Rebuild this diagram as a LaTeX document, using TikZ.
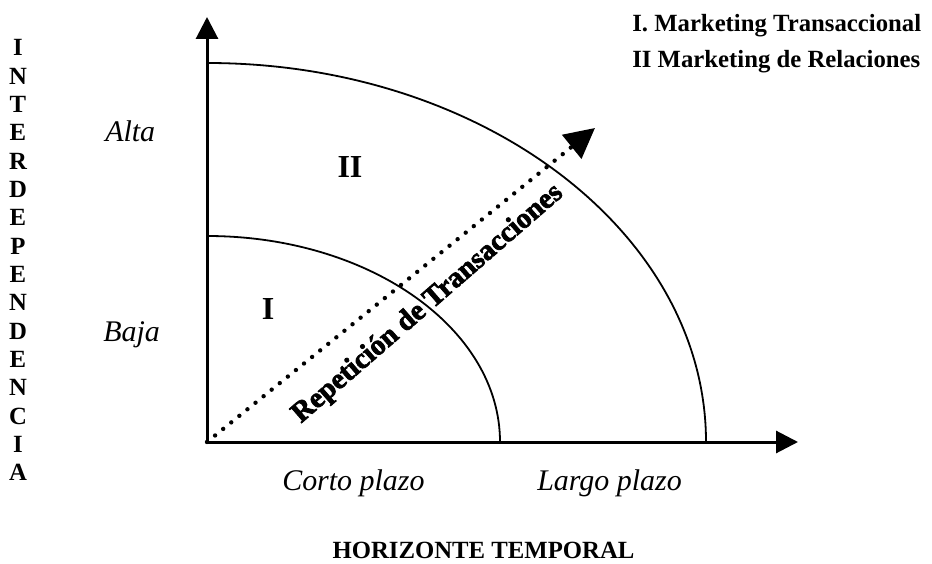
\documentclass[tikz,border=0pt]{standalone}
\usepackage{fontspec}
\setmainfont{Liberation Serif}
\newfontfamily\repfont[FakeBold=2.5]{Liberation Serif}
\usetikzlibrary{arrows.meta}

\begin{document}
\begin{tikzpicture}[
    x=0.25mm, y=0.25mm,
    axis/.style={line width=0.75mm, -{Triangle[length=5.5mm, width=5.5mm]}},
    zone/.style={line width=0.45mm},
    rep/.style={line width=1.1mm, line cap=round, dash pattern=on 0pt off 2.6mm,
                -{Triangle[length=7.5mm, width=7.5mm]}},
    legend/.style={font=\fontsize{17.6}{21}\selectfont\bfseries, inner sep=0pt, anchor=base west},
    level/.style={font=\fontsize{21.3}{25}\selectfont\itshape, inner sep=0pt, anchor=base west},
    roman/.style={font=\fontsize{22.8}{27}\selectfont\bfseries, inner sep=0pt},
    letter/.style={font=\fontsize{17.6}{21}\selectfont\bfseries, inner sep=0pt, anchor=base},
    reptext/.style={font=\fontsize{20.5}{24}\selectfont\repfont\bfseries, inner sep=0pt, rotate=41}
]
\useasboundingbox (0,0) rectangle (932,563);
\coordinate (origin) at (207,121);
\coordinate (ytip) at (207,546);
\coordinate (xtip) at (798,121);
\coordinate (reptip) at (595,435);

% zonas
\draw[zone] (207,500) arc[start angle=90, end angle=0, x radius=124.75mm, y radius=94.75mm];
\draw[zone] (207,327) arc[start angle=90, end angle=0, x radius=73.25mm, y radius=51.5mm];

% ejes
\draw[axis] (origin) -- (ytip);
\draw[axis] (origin) -- (xtip);
\draw[rep] (origin) -- (reptip);

\node[legend] (leg1) at (632,531) {I. Marketing Transaccional};
\node[legend] (leg2) at (632,495) {II Marketing de Relaciones};

\node[level] (alta) at (105,421) {Alta};
\node[level] (baja) at (103,221) {Baja};
\node[level] (corto) at (282,73) {Corto plazo};
\node[level] (largo) at (537,73) {Largo plazo};
\node[legend, anchor=base] (horiz) at (483.5,5) {HORIZONTE TEMPORAL};

\node[roman] (zoneI) at (268,254) {I};
\node[roman] (zoneII) at (350,396) {II};
\node[reptext] (reptxt) at (428,259) {Repetición de Transacciones};

% eje vertical, letra por letra
\foreach \ch [count=\i from 0] in {I,N,T,E,R,D,E,P,E,N,D,E,N,C,I,A}
  \node[letter] (v\i) at (18,507-28.33*\i) {\ch};
\end{tikzpicture}
\end{document}
